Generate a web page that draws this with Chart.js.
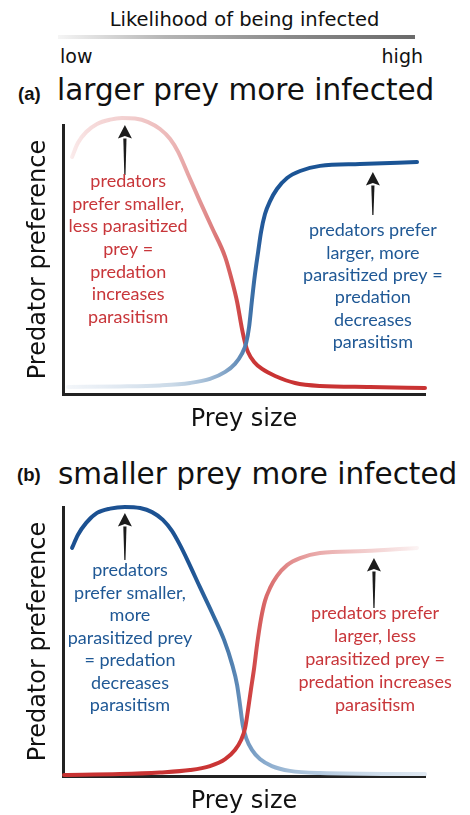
<!DOCTYPE html>
<html><head><meta charset="utf-8">
<script src="https://cdn.jsdelivr.net/npm/chart.js@4"></script>
<style>
html,body{margin:0;padding:0;background:#fff;width:470px;height:815px;overflow:hidden;}
body{position:relative;}
.t{position:absolute;white-space:nowrap;font-family:"DejaVu Sans";color:#111;line-height:normal;}
.lab{font-family:"Liberation Sans";font-weight:bold;}
canvas{position:absolute;left:0;}
#bar{position:absolute;left:58px;top:35px;width:357px;height:4px;background:linear-gradient(to right,rgba(215,215,215,0.25),#b5b5b5 30%,#8a8a8a 65%,#6a6a6a);}
</style></head><body>
<div class="t" style="left:0;width:489px;text-align:center;top:8px;font-size:19.5px;">Likelihood of being infected</div>
<div id="bar"></div>
<div class="t" style="left:60px;top:45px;font-size:19px;">low</div>
<div class="t" style="right:47px;top:45px;font-size:19px;text-align:right;">high</div>
<div class="t lab" style="left:18px;top:83px;font-size:18.5px;">(a)</div>
<div class="t" style="left:57px;top:72.6px;font-size:29.5px;">larger prey more infected</div>
<div class="t lab" style="left:17px;top:464px;font-size:18.5px;">(b)</div>
<div class="t" style="left:58px;top:456.6px;font-size:29.5px;">smaller prey more infected</div>
<canvas id="ca" width="470" height="335" style="top:105px"></canvas>
<canvas id="cb" width="470" height="365" style="top:460px"></canvas>
<script>
// ---- data (panel a: larger prey more infected) ----
const aRedSize = [2.5, 4.1, 6.4, 9.4, 13.0, 16.3, 19.9, 23.5, 26.8, 29.6, 31.8, 34.5, 37.8, 41.2, 44.8, 46.7, 48.1, 49.4, 50.3, 51.1, 52.8, 55.0, 58.6, 64.1, 71.0, 84.8, 100];
const aRedPref = [88.1, 93.3, 97.4, 100.4, 102.0, 102.6, 102.4, 101.1, 98.5, 94.8, 90.0, 81.8, 71.7, 61.7, 50.9, 42.0, 34.2, 24.5, 19.0, 15.6, 11.9, 9.3, 6.7, 4.1, 3.0, 2.6, 2.2];
const aBlueSize = [1.4, 15.7, 26.8, 35.1, 40.6, 44.8, 47.5, 49.4, 50.6, 51.4, 52.2, 53.0, 53.9, 54.7, 55.8, 57.2, 59.1, 61.9, 65.5, 71.0, 82.0, 97.8];
const aBluePref = [2.6, 2.8, 3.2, 4.1, 5.6, 8.2, 11.2, 14.9, 19.0, 24.9, 34.9, 44.2, 52.8, 60.2, 66.9, 71.7, 76.2, 80.3, 82.9, 84.8, 85.5, 86.2];
// ---- data (panel b: smaller prey more infected) ----
const bBlueSize = [2.5, 4.1, 6.4, 9.4, 13.0, 17.1, 21.3, 24.6, 27.6, 30.1, 32.3, 34.5, 37.8, 41.2, 44.5, 46.7, 48.1, 48.9, 49.7, 50.6, 52.2, 54.4, 57.7, 62.7, 71.0, 100];
const bBluePref = [84.8, 89.6, 94.1, 97.8, 99.4, 100, 99.6, 98.1, 95.2, 91.1, 85.9, 79.9, 70.3, 60.6, 50.6, 41.6, 33.8, 26.4, 18.6, 14.1, 9.7, 6.3, 3.7, 1.9, 1.1, 0.7];
const bRedSize = [0.3, 15.7, 26.8, 35.1, 40.6, 44.8, 47.5, 49.2, 50.3, 51.1, 51.9, 52.8, 53.6, 54.7, 55.8, 57.2, 59.1, 61.9, 65.5, 71.0, 83.4, 97.8];
const bRedPref = [0.4, 0.7, 1.3, 2.2, 3.7, 6.3, 9.7, 13.4, 17.8, 24.5, 32.0, 40.1, 48.7, 58.4, 65.1, 69.9, 74.3, 78.4, 81.0, 82.9, 83.6, 84.8];
// ---- labels ----
const xTitle = 'Prey size';
const yTitle = 'Predator preference';
const aLeftNote = ['predators', 'prefer smaller,', 'less parasitized', 'prey =', 'predation', 'increases', 'parasitism'];
const aRightNote = ['predators prefer', 'larger, more', 'parasitized prey =', 'predation', 'decreases', 'parasitism'];
const bLeftNote = ['predators', 'prefer smaller,', 'more', 'parasitized prey', '= predation', 'decreases', 'parasitism'];
const bRightNote = ['predators prefer', 'larger, less', 'parasitized prey =', 'predation increases', 'parasitism'];

const RED = '#c8363a', BLUE = '#1f5895';

const stopsARed = [[0,'rgba(232,150,150,0.02)'],[0.03,'rgba(238,180,180,0.3)'],[0.16,'#f3d2d2'],[0.3,'#ecb8b8'],[0.39,'#e19090'],[0.46,'#d65f5f'],[0.5,'#cc3d3d'],[0.55,'#c93333'],[1,'#c93333']];
const stopsABlue = [[0,'rgba(225,233,242,0.3)'],[0.1,'#e8eef5'],[0.3,'#cbdae8'],[0.38,'#abc3da'],[0.45,'#82a4c7'],[0.49,'#5f89b6'],[0.52,'#3f72a8'],[0.55,'#23599a'],[0.6,'#1b5495'],[1,'#1b5495']];
const stopsBBlue = [[0,'#1b5091'],[0.35,'#1d5393'],[0.42,'#346aa1'],[0.47,'#5583b2'],[0.5,'#6c94be'],[0.56,'#8bacce'],[0.65,'#a9c2da'],[0.8,'#c5d6e7'],[1,'#e0e9f2']];
const stopsBRed = [[0,'#c83232'],[0.48,'#ca3535'],[0.52,'#d04444'],[0.56,'#d96a6a'],[0.62,'#e18b8b'],[0.7,'#e9a9a9'],[0.82,'#f1c9c9'],[0.95,'#f9e9e9'],[1,'rgba(252,245,245,0.5)']];

function grad(stops){
  return function(ctx){
    const ch = ctx.chart, area = ch.chartArea;
    if(!area) return stops[stops.length-1][1];
    const g = ch.ctx.createLinearGradient(area.left,0,area.right,0);
    stops.forEach(s=>g.addColorStop(s[0],s[1]));
    return g;
  };
}
function pts(xs,ys){return xs.map((v,i)=>({x:v,y:ys[i]}));}

function drawArrow(ctx,x,y0,y1){
  const hh=13.5, hw=7;
  ctx.save();
  ctx.fillStyle='#1c1c1c';
  ctx.beginPath();
  ctx.moveTo(x-0.6,y0); ctx.lineTo(x+0.6,y0);
  ctx.lineTo(x+1.6,y1+hh); ctx.lineTo(x-1.6,y1+hh); ctx.closePath(); ctx.fill();
  ctx.beginPath();
  ctx.moveTo(x,y1); ctx.lineTo(x+hw,y1+hh); ctx.lineTo(x,y1+hh-2.5); ctx.lineTo(x-hw,y1+hh); ctx.closePath(); ctx.fill();
  ctx.restore();
}
const notesPlugin = {
  id:'notes',
  afterDatasetsDraw(chart,args,opts){
    const {ctx} = chart, x = chart.scales.x, y = chart.scales.y;
    (opts.arrows||[]).forEach(a=>drawArrow(ctx,x.getPixelForValue(a.x),y.getPixelForValue(a.from),y.getPixelForValue(a.to)));
    (opts.notes||[]).forEach(n=>{
      ctx.save();
      ctx.font = '18px Lato';
      ctx.fillStyle = n.color; ctx.textAlign='center'; ctx.textBaseline='alphabetic';
      const cx = x.getPixelForValue(n.x), cy = y.getPixelForValue(n.y);
      n.lines.forEach((l,i)=>ctx.fillText(l,cx,cy+i*n.step));
      ctx.restore();
    });
  }
};

function makeChart(id, datasets, notes, arrows, padTop, xPad){
  const axisFont = {family:'DejaVu Sans', size:24};
  return new Chart(document.getElementById(id),{
    type:'line',
    data:{datasets},
    options:{
      responsive:false, animation:false, events:[],
      layout:{padding:{top:padTop,right:45,left:0,bottom:0}, autoPadding:false},
      elements:{point:{radius:0}, line:{borderWidth:4, borderCapStyle:'round', borderJoinStyle:'round', cubicInterpolationMode:'monotone'}},
      scales:{
        x:{type:'linear',min:0,max:100,ticks:{display:false},grid:{display:false,drawTicks:false},
           border:{display:true,color:'#222',width:3},
           title:{display:true,text:xTitle,font:axisFont,color:'#111',padding:xPad}},
        y:{type:'linear',min:0,max:100,ticks:{display:false},grid:{display:false,drawTicks:false},
           border:{display:true,color:'#222',width:3},
           title:{display:true,text:yTitle,font:axisFont,color:'#111',padding:{top:24.6,bottom:9.6}}}
      },
      plugins:{legend:{display:false},tooltip:{enabled:false},notes:{notes,arrows}}
    },
    plugins:[notesPlugin]
  });
}

function build(){
  makeChart('ca',[
    {data:pts(aBlueSize,aBluePref),borderColor:grad(stopsABlue),clip:false},
    {data:pts(aRedSize,aRedPref),borderColor:grad(stopsARed),clip:false}
  ],[
    {x:18.0,y:77.0,step:22.7,color:RED,lines:aLeftNote},
    {x:85.6,y:58.6,step:22.3,color:BLUE,lines:aRightNote}
  ],[
    {x:17.1,from:81.4,to:100},
    {x:85.6,from:66.5,to:82.5}
  ],20,{top:11.6,bottom:5.6});
  makeChart('cb',[
    {data:pts(bRedSize,bRedPref),borderColor:grad(stopsBRed),clip:false},
    {data:pts(bBlueSize,bBluePref),borderColor:grad(stopsBBlue),clip:false}
  ],[
    {x:18.5,y:74.2,step:22.5,color:BLUE,lines:bLeftNote},
    {x:86.2,y:58.3,step:23,color:RED,lines:bRightNote}
  ],[
    {x:17.1,from:80.3,to:97.8},
    {x:85.9,from:62.5,to:81.0}
  ],47,{top:11.6,bottom:8.6});
}
Promise.all([document.fonts.load('18px Lato'),document.fonts.load('24px "DejaVu Sans"')]).then(build,build);
</script>
</body></html>
